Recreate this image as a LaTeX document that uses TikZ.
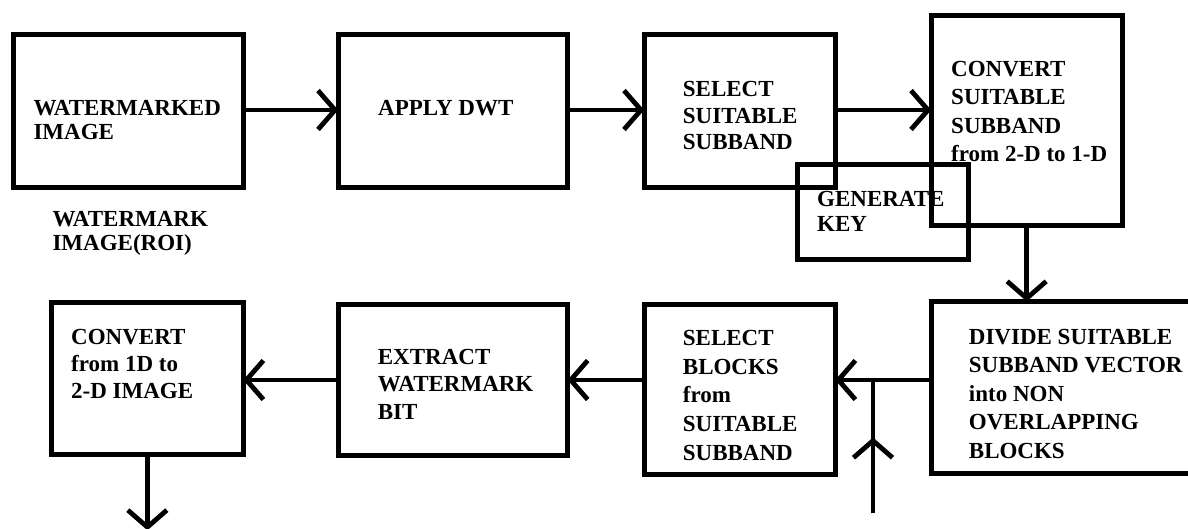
\documentclass[tikz,border=0pt]{standalone}
\usepackage{fontspec}
\setmainfont{Liberation Serif}
\usetikzlibrary{arrows.meta,calc}

% left-aligned block of lines; first baseline is the node's base
\newcommand\blocklines[2]{{\fontsize{23}{#1}\selectfont\begin{tabular}[t]{@{}l@{}}#2\end{tabular}}}

\begin{document}
\begin{tikzpicture}[x=1pt,y=1pt,
  stepbox/.style={draw, rectangle, line width=5pt, inner sep=0pt},
  label/.style={anchor=base west, inner sep=0pt, font=\bfseries\fontsize{23}{24}\selectfont},
  flow/.style={line width=4.8pt, shorten >=-2.5pt, -{Straight Barb[length=17pt,width=39pt,sharp]}},
  plain/.style={line width=4.8pt}]

\clip (0,0) rectangle (1188,-528);

% boxes
\node[stepbox, minimum width=230pt,   minimum height=153.3pt] (b1) at (128.2,-110.85) {};
\node[stepbox, minimum width=229.3pt, minimum height=153.3pt] (b2) at (452.85,-110.85) {};
\node[stepbox, minimum width=191pt,   minimum height=153.3pt] (b3) at (739.7,-110.85) {};
\node[stepbox, minimum width=191pt,   minimum height=210.6pt] (b4) at (1026.7,-120.5) {};
\node[stepbox, minimum width=171pt,   minimum height=94.4pt]  (bk) at (883.3,-212) {};
\node[stepbox, minimum width=316.3pt, minimum height=171.7pt] (b5) at (1089.35,-387.35) {};
\node[stepbox, minimum width=191pt,   minimum height=170.6pt] (b6) at (739.7,-389.5) {};
\node[stepbox, minimum width=229.3pt, minimum height=151.6pt] (b7) at (452.85,-380) {};
\node[stepbox, minimum width=191.7pt, minimum height=152.6pt] (b8) at (147.35,-378.5) {};

% texts
\node[label] (t1) at (33.3,-115) {\blocklines{24.3}{WATERMARKED\\IMAGE}};
\node[label] (troi) at (52.3,-226) {\blocklines{24.7}{WATERMARK\\IMAGE(ROI)}};
\node[label] (t2) at (378,-115) {\blocklines{24}{APPLY DWT}};
\node[label] (t3) at (682.7,-96.7) {\blocklines{26.3}{SELECT\\SUITABLE\\SUBBAND}};
\node[label] (t4) at (951,-76) {\blocklines{28.6}{CONVERT\\SUITABLE\\SUBBAND\\from 2-D to 1-D}};
\node[label] (tk) at (817,-206.7) {\blocklines{25}{GENERATE\\KEY}};
\node[label] (t5) at (968.7,-344) {\blocklines{28.6}{DIVIDE SUITABLE\\SUBBAND VECTOR\\into NON\\OVERLAPPING\\BLOCKS}};
\node[label] (t6) at (682.7,-345.7) {\blocklines{28.6}{SELECT\\BLOCKS\\from\\SUITABLE\\SUBBAND}};
\node[label] (t7) at (377.7,-364) {\blocklines{27.5}{EXTRACT\\WATERMARK\\BIT}};
\node[label] (t8) at (71,-344) {\blocklines{27}{CONVERT\\from 1D to\\2-D IMAGE}};

% row levels of the horizontal connectors
\coordinate (r1) at (0,-110);
\coordinate (r2) at (0,-380);

% top row
\draw[flow] (b1.east |- r1) -- (b2.west |- r1);
\draw[flow] (b2.east |- r1) -- (b3.west |- r1);
\draw[flow] (b3.east |- r1) -- (b4.west |- r1);

% down to the block division
\draw[flow] (b4.south) -- (b4.south |- b5.north);

% bottom row
\draw[flow] (b5.west |- r2) -- (b6.east |- r2);
\draw[flow] (b6.west |- r2) -- (b7.east |- r2);
\draw[flow] (b7.west |- r2) -- (b8.east |- r2);

% key input joining the bottom row
\coordinate (kin) at (873,-513.3);
\coordinate (kjoin) at (873,-380);
\draw[plain] (kin) -- (kjoin);
\draw[flow] (kin) -- ($(kin)!0.55!(kjoin)$);

% output of the recovered image
\coordinate (out) at ($(b8.south)+(0,-70.5)$);
\draw[flow] (b8.south) -- (out);

\end{tikzpicture}
\end{document}
